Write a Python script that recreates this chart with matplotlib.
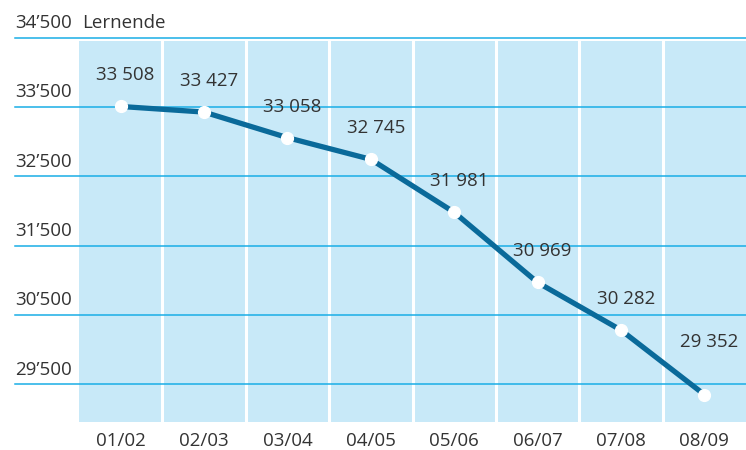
import matplotlib.pyplot as plt
from matplotlib.ticker import FuncFormatter
import numpy as np

plt.rcParams['font.family'] = ['Open Sans', 'DejaVu Sans']

# Data
years = ['01/02', '02/03', '03/04', '04/05', '05/06', '06/07', '07/08', '08/09']
lernende = [33508, 33427, 33058, 32745, 31981, 30969, 30282, 29352]
yticks = [29500, 30500, 31500, 32500, 33500, 34500]

text_col = '#333333'
grid_col = '#1aaee6'
bg_col = '#c8e9f8'
line_col = '#0a6a9a'
fs = 13.5

fig = plt.figure(figsize=(7.46, 4.5), dpi=100)
x0, x1 = 79 / 746, 1.0
y_bot, y_top = 1 - 422 / 450, 1 - 37.7 / 450
ax = fig.add_axes([x0, y_bot, x1 - x0, y_top - y_bot])

ymin, ymax = 28956, 34500
x = np.arange(len(years))
ax.set_xlim(-0.5, len(years) - 0.5)
ax.set_ylim(ymin, ymax)

# blue columns with white separators
for i in range(len(years)):
    ax.axvspan(i - 0.5, i + 0.5, ymin=0, ymax=(34450 - ymin) / (ymax - ymin),
               color=bg_col, lw=0, zorder=0)
for i in range(1, len(years)):
    ax.axvline(i - 0.5, color='white', lw=2.2, zorder=1)

# horizontal gridlines extending into the label area
fmt = FuncFormatter(lambda v, p: f'{int(v):,}'.replace(',', '\u2019'))
ext = -(79 - 15) / (746 - 79)
for t in yticks:
    ax.plot([ext, 1], [t, t], transform=ax.get_yaxis_transform(),
            color=grid_col, lw=1.1, clip_on=False, zorder=2)
    ax.text(ext, t + 80, fmt(t), transform=ax.get_yaxis_transform(),
            ha='left', va='bottom', fontsize=fs, color=text_col)

ax.text(0.005, 34580, 'Lernende', transform=ax.get_yaxis_transform(),
        ha='left', va='bottom', fontsize=fs, color=text_col)

ax.plot(x, lernende, color=line_col, lw=3.8, zorder=3, solid_capstyle='round')
ax.plot(x, lernende, 'o', color='white', markersize=8.5, zorder=4)

for i, v in enumerate(lernende):
    dy = 22 if i < len(lernende) - 1 else 44
    ax.annotate(f'{v:,}'.replace(',', ' '), (x[i], v), xytext=(5, dy),
                textcoords='offset pixels', ha='center', va='bottom',
                fontsize=fs, color=text_col, zorder=5)

ax.set_xticks(x)
ax.set_xticklabels(years, fontsize=fs, color=text_col)
ax.tick_params(axis='x', length=0, pad=7)
ax.set_yticks([])
for s in ax.spines.values():
    s.set_visible(False)

fig.savefig('out.png', dpi=100)
